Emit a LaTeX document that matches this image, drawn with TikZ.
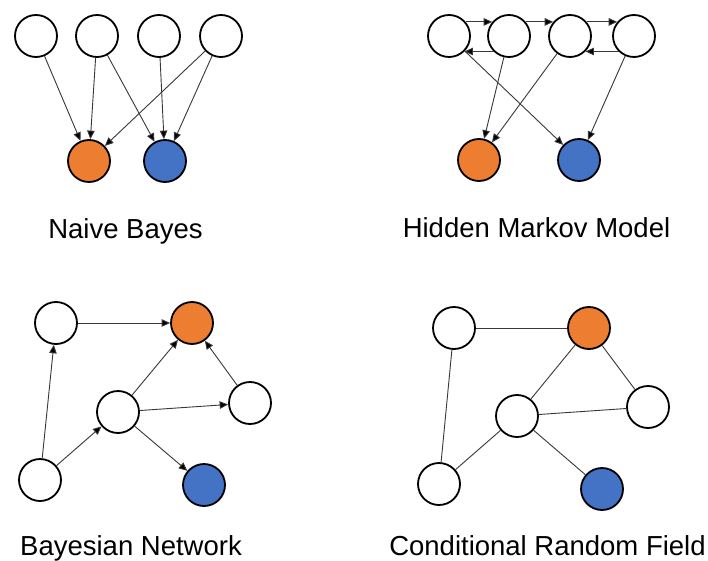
\documentclass[tikz,border=0pt]{standalone}
\usepackage{fontspec}
\setmainfont{Liberation Sans}
\usetikzlibrary{arrows.meta}
\definecolor{nodeorange}{HTML}{ED7D31}
\definecolor{nodeblue}{HTML}{4472C4}
\definecolor{edgegray}{HTML}{383838}
\begin{document}
\begin{tikzpicture}[x=1pt,y=-1pt,
  vnode/.style={circle,draw=black,line width=1.8pt,minimum size=42pt,inner sep=0pt,fill=white},
  onode/.style={vnode,fill=nodeorange},
  bnode/.style={vnode,fill=nodeblue},
  arr/.style={draw=edgegray,line width=0.9pt,-{Triangle[length=8.5pt,width=7.5pt,fill=black]}},
  lnk/.style={draw=edgegray,line width=0.9pt},
  title/.style={anchor=base,font=\fontsize{27.5}{31}\selectfont,inner sep=0pt}]
\useasboundingbox (0,0) rectangle (708,561);
\fill[white] (0,0) rectangle (708,561);

% Naive Bayes
\node[vnode] (n1) at (36,36) {};
\node[vnode] (n2) at (97,36) {};
\node[vnode] (n3) at (159,36) {};
\node[vnode] (n4) at (221,36) {};
\node[onode] (no) at (89,161) {};
\node[bnode] (nb) at (165,161) {};
\draw[arr] (n1) -- (no);
\draw[arr] (n2) -- (no);
\draw[arr] (n2) -- (nb);
\draw[arr] (n3) -- (nb);
\draw[arr] (n4) -- (no);
\draw[arr] (n4) -- (nb);
\node[title] (tnb) at (125.5,238) {Naive Bayes};

% Hidden Markov Model
\node[vnode] (h1) at (449,36) {};
\node[vnode] (h2) at (509,36) {};
\node[vnode] (h3) at (570,36) {};
\node[vnode] (h4) at (634,36) {};
\node[onode] (ho) at (479,160) {};
\node[bnode] (hb) at (579,160) {};
\draw[arr] (h1.40) -- (h2.140);
\draw[arr] (h2.-135) -- (h1.-45);
\draw[arr] (h2.40) -- (h3.140);
\draw[arr] (h3.40) -- (h4.140);
\draw[arr] (h4.-135) -- (h3.-45);
\draw[arr] (h1) -- (hb);
\draw[arr] (h2) -- (ho);
\draw[arr] (h3) -- (ho);
\draw[arr] (h4) -- (hb);
\node[title] (thmm) at (536.5,237) {Hidden Markov Model};

% Bayesian Network
\node[vnode] (ba) at (56,323) {};
\node[onode] (bo) at (192,323) {};
\node[vnode] (bm) at (118,412) {};
\node[vnode] (br) at (250,403) {};
\node[vnode] (bl) at (40,480) {};
\node[bnode] (bb) at (204,485) {};
\draw[arr] (ba) -- (bo);
\draw[arr] (bl) -- (ba);
\draw[arr] (bl) -- (bm);
\draw[arr] (bm) -- (bo);
\draw[arr] (bm) -- (br);
\draw[arr] (br) -- (bo);
\draw[arr] (bm) -- (bb);
\node[title] (tbn) at (131,555) {Bayesian Network};

% Conditional Random Field
\node[vnode] (ca) at (454,328) {};
\node[onode] (co) at (589,328) {};
\node[vnode] (cm) at (517,416) {};
\node[vnode] (cr) at (648,407) {};
\node[vnode] (cl) at (439,484) {};
\node[bnode] (cb) at (602,489) {};
\draw[lnk] (ca) -- (co);
\draw[lnk] (ca) -- (cl);
\draw[lnk] (co) -- (cm);
\draw[lnk] (co) -- (cr);
\draw[lnk] (cm) -- (cr);
\draw[lnk] (cm) -- (cl);
\draw[lnk] (cm) -- (cb);
\node[title] (tcrf) at (547.5,555) {Conditional Random Field};
\end{tikzpicture}
\end{document}
